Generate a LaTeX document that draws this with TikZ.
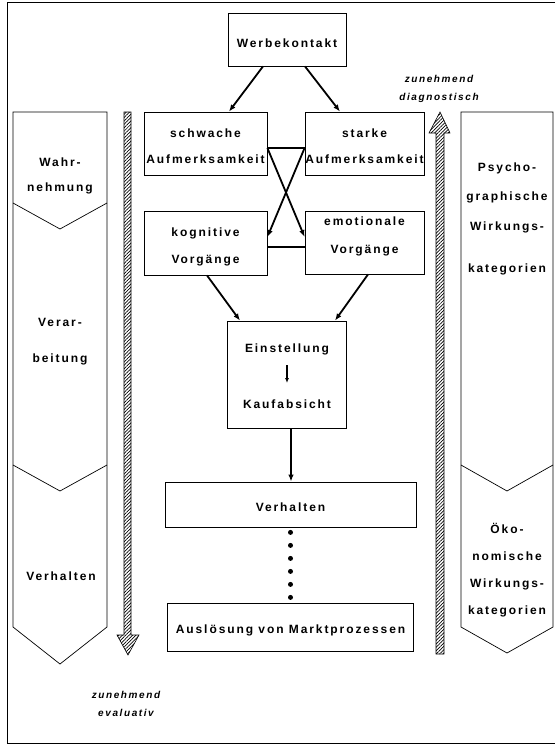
\documentclass[tikz,border=0pt]{standalone}
\usepackage{fontspec}
\newfontfamily\lab[LetterSpace=16]{Liberation Sans}
\usetikzlibrary{arrows.meta,patterns.meta,calc}
\begin{document}
\begin{tikzpicture}[x=1pt,y=-1pt,
  box/.style={draw,line width=0.8pt,inner sep=0pt,rectangle},
  txt/.style={font=\lab\bfseries\fontsize{12}{26}\selectfont,align=center,inner sep=0pt},
  itxt/.style={font=\lab\bfseries\itshape\fontsize{10}{18}\selectfont,align=center,inner sep=0pt},
  arr/.style={line width=1.8pt,-{Latex[length=7pt,width=5.5pt]}},
  link/.style={line width=1.8pt},
  col/.style={draw,line width=0.7pt},
  hatch/.style={draw,line width=0.6pt,pattern={Lines[angle=45,distance=2.4pt,line width=0.7pt]}},
  dots/.style={line width=5pt,line cap=round,dash pattern=on 0pt off 13pt,dash phase=-5pt}]
\useasboundingbox (0,0) rectangle (555,744);
% frame
\draw[line width=0.8pt] (555,2) -- (7,2) -- (7,743) -- (555,743);

% left column
\draw[col] (13,112) -- (107,112) -- (107,627) -- (60,664) -- (13,627) -- cycle;
\draw[col] (13,203) -- (60,229) -- (107,203);
\draw[col] (13,465) -- (60,491) -- (107,465);
\node[txt,font=\lab\bfseries\fontsize{12}{25}\selectfont] (wahr) at (60,175.5) {Wahr-\\nehmung};
\node[txt,font=\lab\bfseries\fontsize{12}{36}\selectfont] (verar) at (60,342) {Verar-\\beitung};
\node[txt] (verhL) at (61,576) {Verhalten};

% right column
\draw[col] (461,112) -- (553,112) -- (553,627) -- (507,653) -- (461,627) -- cycle;
\draw[col] (461,465) -- (507,491) -- (553,465);
\node[txt,font=\lab\bfseries\fontsize{12}{29.5}\selectfont] (psy) at (507,219) {Psycho-\\graphische\\Wirkungs-\\[13pt]kategorien};
\node[txt,font=\lab\bfseries\fontsize{12}{27}\selectfont] (oeko) at (507,570.5) {Öko-\\nomische\\Wirkungs-\\kategorien};

% hatched arrows
\draw[hatch] (124,112) -- (131,112) -- (131,635) -- (139,635) -- (128,655) -- (117,635) -- (124,635) -- cycle;
\draw[hatch] (436,654) -- (444,654) -- (444,133) -- (450,133) -- (440,112) -- (429,133) -- (436,133) -- cycle;
\node[itxt] (evl) at (126,704) {zunehmend\\evaluativ};
\node[itxt] (diag) at (439,89) {zunehmend\\diagnostisch};

% boxes
\node[box,minimum width=118pt,minimum height=53pt] (werbe) at (287,39.5) {};
\node[txt] (tWerbe) at (287,43) {Werbekontakt};
\node[box,minimum width=123pt,minimum height=63pt] (schw) at (205.5,143.5) {};
\node[txt] (tSchw) at (205.5,146) {schwache\\Aufmerksamkeit};
\node[box,minimum width=119pt,minimum height=63pt] (stark) at (364.5,143.5) {};
\node[txt] (tStark) at (364.5,146) {starke\\Aufmerksamkeit};
\node[box,minimum width=123pt,minimum height=64pt] (kog) at (205.5,243) {};
\node[txt,font=\lab\bfseries\fontsize{12}{27}\selectfont] (tKog) at (205.5,246.5) {kognitive\\Vorgänge};
\node[box,minimum width=119pt,minimum height=63pt] (emo) at (364.5,242.5) {};
\node[txt,font=\lab\bfseries\fontsize{12}{28}\selectfont] (tEmo) at (364.5,236) {emotionale\\Vorgänge};
\node[box,minimum width=119pt,minimum height=107pt] (einst) at (286.5,374.5) {};
\node[txt] (tEin) at (287,349) {Einstellung};
\node[txt] (tKauf) at (287,404) {Kaufabsicht};
\coordinate (aTop) at (287,365);
\coordinate (aBot) at (287,383);
\draw[line width=1.3pt,-{Latex[length=5pt,width=4pt]}] (aTop) -- (aBot);
\node[box,minimum width=251pt,minimum height=45pt] (verh) at (290.5,504.5) {};
\node[txt] (tVerh) at (290.5,507) {Verhalten};
\node[box,double,double distance=2.6pt,minimum width=249.5pt,minimum height=51.5pt] (ausl) at (290.5,627.5) {};
\node[txt] (tAusl) at (290.5,630) {Auslösung von Marktprozessen};

% connectors
\draw[arr] ([xshift=-24pt]werbe.south) -- ([xshift=23.5pt]schw.north);
\draw[arr] ([xshift=18pt]werbe.south) -- ([xshift=-24.5pt]stark.north);
\draw[link] ([yshift=-4.5pt]schw.east) -- ([yshift=-4.5pt]stark.west);
\draw[arr] ([yshift=-4.5pt]schw.east) -- ([yshift=5.5pt]emo.west);
\draw[arr] ([yshift=-4.5pt]stark.west) -- ([yshift=6pt]kog.east);
\draw[link] ([yshift=-4pt]kog.east) -- ([yshift=-4.5pt]emo.west);
\draw[arr] ([xshift=1.5pt]kog.south) -- ([xshift=-46.5pt]einst.north);
\draw[arr] ([xshift=3.5pt]emo.south) -- ([xshift=48.5pt]einst.north);
\draw[arr] ([xshift=4.5pt]einst.south) -- ([xshift=0.5pt]verh.north);
\draw[dots] (verh.south) -- (ausl.north);
\end{tikzpicture}
\end{document}
